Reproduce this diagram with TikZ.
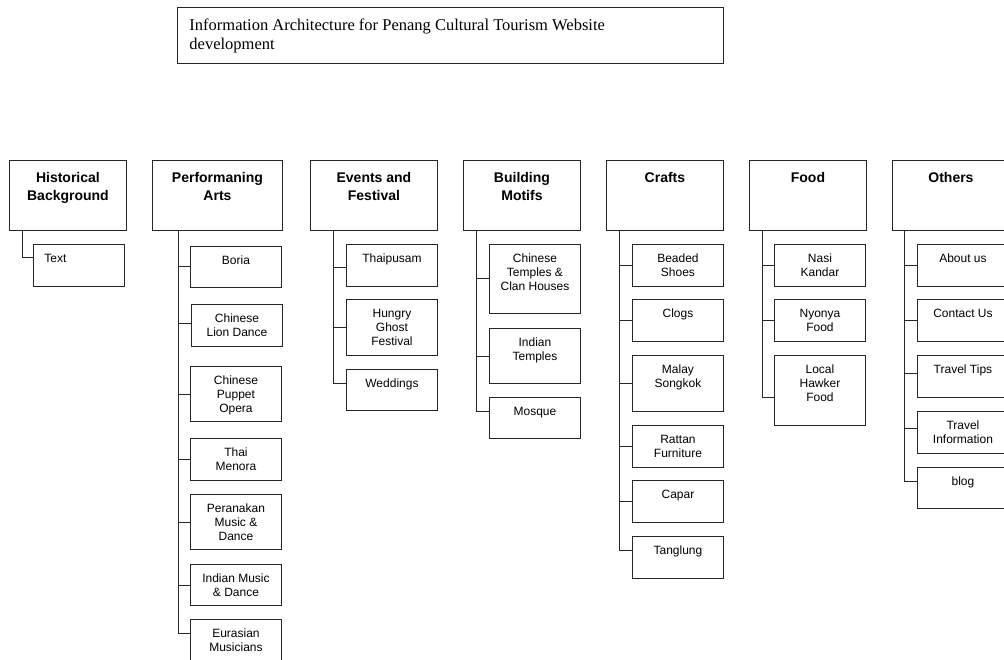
\documentclass[tikz,border=0pt]{standalone}
\usepackage{fontspec}
\setmainfont{Liberation Sans}
\newfontfamily\titlefont{Liberation Serif}
\newcommand{\headtxt}[2]{\parbox[c][70pt][t]{#1pt}{\centering\vspace*{9pt}\strut #2}}
\newcommand{\leaftxt}[2]{\parbox[c][#1pt][t]{91pt}{\centering\vspace*{8pt}\strut #2}}
\tikzset{
	head/.style={draw=black!85, line width=0.9pt, inner sep=0pt, anchor=north west, font=\bfseries\fontsize{14}{18}\selectfont},
	leaf/.style={draw=black!85, line width=0.9pt, inner sep=0pt, anchor=north west, font=\fontsize{12}{14}\selectfont},
	link/.style={black!85, line width=0.9pt}
}

\begin{document}
\begin{tikzpicture}[x=1pt, y=-1pt]
	\useasboundingbox (0,0) rectangle (1004,660);

	\node[head, font=\titlefont\fontsize{16.5}{19}\selectfont] (title) at (177,7) {\parbox[c][56pt][t]{546pt}{\raggedright\leftskip=12pt\vspace*{10pt}\strut\mbox{Information Architecture for Penang Cultural Tourism Website}\\development}};

	% main sections
	\node[head] (hist) at (9,160) {\headtxt{117}{Historical\\Background}};
	\node[head] (perf) at (152,160) {\headtxt{130}{Performaning\\Arts}};
	\node[head] (events) at (310,160) {\headtxt{127}{Events and\\Festival}};
	\node[head] (motifs) at (463,160) {\headtxt{117}{Building\\Motifs}};
	\node[head] (crafts) at (606,160) {\headtxt{117}{Crafts}};
	\node[head] (food) at (749,160) {\headtxt{117}{Food}};
	\node[head] (others) at (892,160) {\headtxt{117}{Others}};

	\coordinate (hist-t) at ([xshift=13]hist.south west);
	\coordinate (perf-t) at ([xshift=26]perf.south west);
	\coordinate (events-t) at ([xshift=23]events.south west);
	\coordinate (motifs-t) at ([xshift=13]motifs.south west);
	\coordinate (crafts-t) at ([xshift=13]crafts.south west);
	\coordinate (food-t) at ([xshift=13]food.south west);
	\coordinate (others-t) at ([xshift=12]others.south west);

	% pages
	\node[leaf] (txt) at (33,244) {\leaftxt{42}{\hspace*{11pt}Text\hfill\null}};

	\node[leaf] (boria) at (190,246) {\leaftxt{41}{Boria}};
	\node[leaf] (liondance) at (191,304) {\leaftxt{42}{Chinese\\Lion Dance}};
	\node[leaf] (puppet) at (190,366) {\leaftxt{55}{Chinese\\Puppet\\Opera}};
	\node[leaf] (menora) at (190,438) {\leaftxt{42}{Thai\\Menora}};
	\node[leaf] (peranakan) at (190,494) {\leaftxt{55}{Peranakan\\Music \&\\Dance}};
	\node[leaf] (indianmusic) at (190,564) {\leaftxt{41}{Indian Music\\\& Dance}};
	\node[leaf] (eurasian) at (190,619) {\leaftxt{42}{Eurasian\\Musicians}};

	\node[leaf] (thaipusam) at (346,244) {\leaftxt{42}{Thaipusam}};
	\node[leaf] (hungryghost) at (346,299) {\leaftxt{56}{Hungry\\Ghost\\Festival}};
	\node[leaf] (weddings) at (346,369) {\leaftxt{41}{Weddings}};

	\node[leaf] (cntemples) at (489,244) {\leaftxt{69}{Chinese\\Temples \&\\Clan Houses}};
	\node[leaf] (intemples) at (489,328) {\leaftxt{55}{Indian\\Temples}};
	\node[leaf] (mosque) at (489,397) {\leaftxt{41}{Mosque}};

	\node[leaf] (beaded) at (632,244) {\leaftxt{42}{Beaded\\Shoes}};
	\node[leaf] (clogs) at (632,299) {\leaftxt{42}{Clogs}};
	\node[leaf] (songkok) at (632,355) {\leaftxt{56}{Malay\\Songkok}};
	\node[leaf] (rattan) at (632,425) {\leaftxt{42}{Rattan\\Furniture}};
	\node[leaf] (capar) at (632,480) {\leaftxt{42}{Capar}};
	\node[leaf] (tanglung) at (632,536) {\leaftxt{42}{Tanglung}};

	\node[leaf] (nasikandar) at (774,244) {\leaftxt{42}{Nasi\\Kandar}};
	\node[leaf] (nyonya) at (774,299) {\leaftxt{42}{Nyonya\\Food}};
	\node[leaf] (hawker) at (774,355) {\leaftxt{70}{Local\\Hawker\\Food}};

	\node[leaf] (aboutus) at (917,244) {\leaftxt{42}{About us}};
	\node[leaf] (contact) at (917,299) {\leaftxt{42}{Contact Us}};
	\node[leaf] (tips) at (917,355) {\leaftxt{42}{Travel Tips}};
	\node[leaf] (travelinfo) at (917,411) {\leaftxt{42}{Travel\\Information}};
	\node[leaf] (blog) at (917,467) {\leaftxt{41}{blog}};

	% connectors
	\draw[link] (hist-t) |- ([yshift=8]txt.west);
	\foreach \c/\dy in {boria/0, liondance/2, puppet/0, menora/0, peranakan/0, indianmusic/0, eurasian/7}
		\draw[link] (perf-t) |- ([yshift=\dy]\c.west);
	\foreach \c/\dy in {thaipusam/-2, hungryghost/0, weddings/7}
		\draw[link] (events-t) |- ([yshift=\dy]\c.west);
	\foreach \c/\dy in {cntemples/0, intemples/0, mosque/7}
		\draw[link] (motifs-t) |- ([yshift=\dy]\c.west);
	\foreach \c/\dy in {beaded/0, clogs/0, songkok/0, rattan/0, capar/0, tanglung/7}
		\draw[link] (crafts-t) |- ([yshift=\dy]\c.west);
	\foreach \c/\dy in {nasikandar/0, nyonya/0, hawker/-7}
		\draw[link] (food-t) |- ([yshift=\dy]\c.west);
	\foreach \c/\dy in {aboutus/0, contact/0, tips/3, travelinfo/4, blog/7}
		\draw[link] (others-t) |- ([yshift=\dy]\c.west);
\end{tikzpicture}
\end{document}
